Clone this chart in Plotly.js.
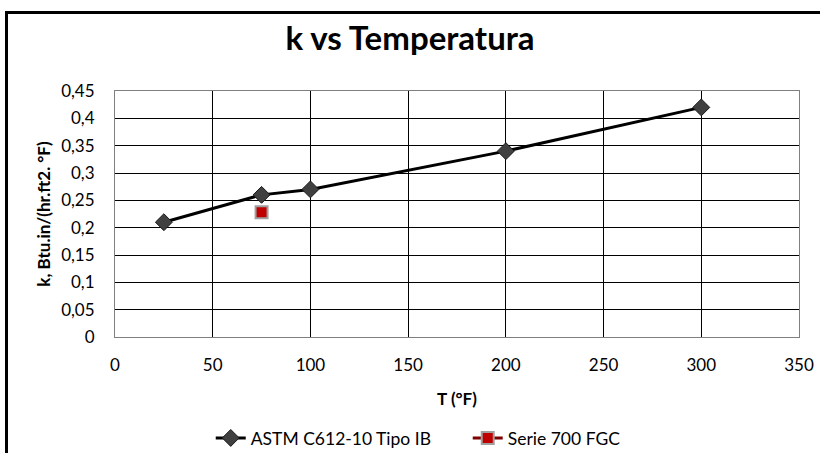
<!DOCTYPE html>
<html><head><meta charset="utf-8">
<script src="https://cdn.plot.ly/plotly-3.0.1.min.js"></script>
<style>
html,body{margin:0;padding:0;background:#fff;}
#frame{position:absolute;left:5px;top:11px;width:830px;height:460px;border:3px solid #000;box-sizing:border-box;}
#chart{position:absolute;left:0;top:0;width:820px;height:453px;}
</style></head>
<body>
<div id="frame"></div>
<div id="chart"></div>
<script>
const astmT = [25, 75, 100, 200, 300];
const astmK = [0.21, 0.26, 0.27, 0.34, 0.42];
const fgcT = [75];
const fgcK = [0.228];
const xTicks = [0, 50, 100, 150, 200, 250, 300, 350];
const yTicks = [0, 0.05, 0.1, 0.15, 0.2, 0.25, 0.3, 0.35, 0.4, 0.45];
const yLabels = ['0', '0,05', '0,1', '0,15', '0,2', '0,25', '0,3', '0,35', '0,4', '0,45'];

const F = 'Lato, "Open Sans", sans-serif';

const traces = [
  {x: astmT, y: astmK, name: 'ASTM C612-10 Tipo IB', mode: 'lines+markers', type: 'scatter',
   line: {color: '#000', width: 3},
   marker: {symbol: 'diamond', size: 13, color: '#404040', line: {color: '#1a1a1a', width: 1}}},
  {x: fgcT, y: fgcK, name: 'Serie 700 FGC', mode: 'lines+markers', type: 'scatter',
   line: {color: '#7f0000', width: 3},
   marker: {symbol: 'square', size: 12, color: '#c00000', line: {color: '#a0a0a0', width: 2}}}
];

const layout = {
  width: 820, height: 453,
  paper_bgcolor: 'rgba(0,0,0,0)', plot_bgcolor: '#fff',
  margin: {l: 115, r: 21, t: 91, b: 116, autoexpand: false},
  showlegend: true,
  title: {text: '<b>k vs Temperatura</b>', x: 0.5, xanchor: 'center', y: 0.915, yanchor: 'middle',
          font: {family: F, size: 33, color: '#000'}},
  xaxis: {range: [0, 350], tickvals: xTicks, ticktext: xTicks.map(String),
          showgrid: true, gridcolor: '#000', gridwidth: 1, zeroline: false,
          showline: true, linecolor: '#808080', linewidth: 1, mirror: true,
          ticks: 'outside', ticklen: 13, tickcolor: 'rgba(0,0,0,0)',
          tickfont: {family: F, size: 17, color: '#000'},
          title: {text: '<b>T (°F)</b>', font: {family: F, size: 17, color: '#000'}, standoff: 18}},
  yaxis: {range: [0, 0.45], tickvals: yTicks, ticktext: yLabels,
          showgrid: true, gridcolor: '#000', gridwidth: 1, zeroline: false,
          showline: true, linecolor: '#808080', linewidth: 1, mirror: true,
          ticks: 'outside', ticklen: 16, tickcolor: 'rgba(0,0,0,0)',
          tickfont: {family: F, size: 17, color: '#000'},
          title: {text: '<b>k, Btu.in/(hr.ft2. °F)</b>', font: {family: F, size: 17, color: '#000'}, standoff: 6}},
  legend: {orientation: 'h', xref: 'container', yref: 'container', x: 0.257, xanchor: 'left',
           y: 0.033, yanchor: 'middle', entrywidth: 212,
           font: {family: F, size: 17.5, color: '#000'}, bgcolor: 'rgba(0,0,0,0)',
           itemwidth: 30, tracegroupgap: 0}
};

Plotly.newPlot('chart', traces, layout, {displayModeBar: false, staticPlot: true});
</script>
</body></html>
